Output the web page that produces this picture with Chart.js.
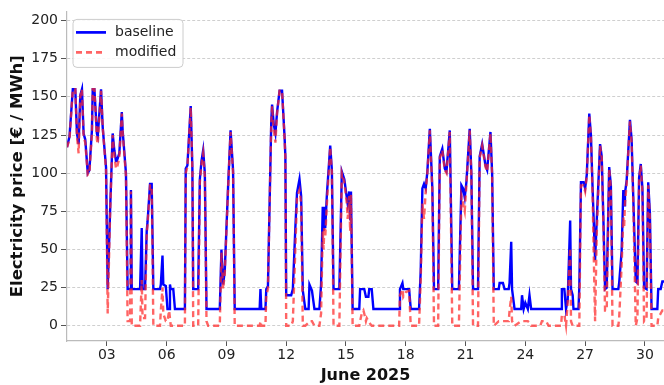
<!DOCTYPE html>
<html>
<head>
<meta charset="utf-8">
<script src="https://cdn.jsdelivr.net/npm/chart.js@4"></script>
<style>
  html, body { margin: 0; padding: 0; background: #fff; overflow: hidden; }
  #wrap { width: 664px; height: 385px; }
</style>
</head>
<body>
<div id="wrap"><canvas id="priceChart" width="664" height="385"></canvas></div>
<script>
// hours since 1 June 2025 00:00
const hours = [
  0, 3, 7, 10, 12, 14, 16, 18, 20, 22, 25, 27, 30, 31, 33, 36, 37, 41, 43, 47,
  49, 52, 55, 57, 59, 60, 63, 66, 67, 71, 73, 76, 77, 78, 88, 90, 91, 94, 96, 97,
  100, 102, 104, 112, 113, 115, 116, 119, 121, 123, 124, 125, 128, 130, 142, 143, 145, 149, 151, 152,
  158, 160, 162, 164, 166, 168, 170, 184, 186, 188, 190, 194, 197, 200, 202, 232, 233, 234, 239, 240,
  242, 246, 247, 249, 251, 253, 256, 259, 262, 263, 264, 270, 272, 275, 277, 280, 282, 284, 287, 291,
  292, 295, 298, 304, 306, 308, 309, 310, 311, 313, 317, 319, 321, 328, 331, 334, 337, 338, 340, 341,
  342, 344, 352, 353, 355, 357, 358, 360, 361, 363, 364, 367, 369, 400, 401, 404, 405, 408, 412, 414,
  424, 426, 428, 430, 432, 434, 437, 440, 442, 447, 449, 452, 455, 457, 461, 464, 472, 475, 477, 479,
  481, 485, 487, 489, 495, 497, 500, 504, 506, 510, 512, 514, 520, 521, 525, 527, 532, 533, 535, 536,
  539, 547, 548, 550, 552, 555, 557, 559, 570, 572, 577, 580, 595, 596, 599, 601, 603, 606, 607, 609,
  610, 616, 617, 619, 622, 624, 626, 629, 631, 633, 636, 638, 642, 644, 646, 648, 650, 653, 655, 657,
  664, 665, 668, 670, 671, 672, 674, 678, 680, 682, 685, 687, 689, 691, 693, 695, 698, 700, 702, 704,
  711, 712, 715, 717, 719
];

const baseline = [
  117, 124, 155, 155, 126, 119, 151, 155, 126, 122, 100, 102, 128, 155, 155, 126, 124, 155, 130, 104,
  24, 77, 126, 115, 108, 108, 113, 140, 128, 100, 24, 24, 89, 24, 24, 64, 24, 24, 62, 68,
  93, 93, 24, 24, 27, 46, 27, 26, 11, 11, 27, 24, 24, 11, 11, 103, 105, 144, 103, 24,
  24, 96, 108, 115, 100, 11, 11, 11, 50, 27, 36, 91, 128, 102, 11, 11, 24, 11, 11, 24,
  26, 134, 145, 132, 126, 140, 154, 154, 124, 111, 20, 20, 24, 64, 87, 96, 85, 23, 11, 11,
  27, 23, 11, 11, 27, 78, 62, 78, 64, 86, 118, 102, 24, 24, 101, 96, 84, 80, 88, 70,
  88, 11, 11, 24, 24, 24, 24, 19, 19, 19, 24, 24, 11, 11, 24, 28, 24, 24, 24, 11,
  11, 36, 90, 93, 90, 101, 129, 90, 24, 24, 111, 116, 103, 101, 128, 24, 24, 92, 90, 84,
  94, 129, 100, 24, 24, 111, 119, 105, 102, 127, 100, 24, 24, 28, 28, 24, 24, 28, 55, 24,
  11, 11, 20, 11, 15, 11, 20, 11, 11, 11, 11, 11, 11, 24, 24, 11, 17, 69, 24, 20,
  11, 11, 25, 94, 94, 90, 99, 139, 125, 90, 43, 69, 119, 111, 70, 24, 25, 104, 92, 24,
  24, 28, 49, 89, 79, 87, 95, 135, 122, 84, 29, 28, 97, 106, 90, 25, 24, 94, 74, 11,
  11, 24, 24, 29, 29
];

const modified = [
  117, 122, 155, 155, 124, 113, 150, 155, 124, 120, 99, 100, 126, 155, 155, 122, 119, 154, 130, 102,
  8, 75, 125, 112, 103, 103, 110, 139, 127, 98, 3, 3, 88, 0, 0, 30, 5, 5, 60, 66,
  92, 92, 0, 0, 10, 25, 8, 3, 3, 10, 5, 0, 0, 0, 0, 100, 104, 143, 102, 0,
  0, 94, 106, 113, 98, 3, 0, 0, 48, 24, 34, 90, 127, 100, 0, 0, 3, 0, 0, 20,
  24, 133, 144, 128, 120, 139, 154, 154, 123, 110, 0, 0, 3, 50, 84, 89, 80, 0, 0, 2,
  3, 3, 0, 0, 8, 62, 50, 65, 58, 80, 117, 100, 0, 0, 100, 94, 80, 70, 85, 62,
  86, 0, 0, 3, 8, 10, 8, 3, 5, 3, 2, 0, 0, 0, 20, 24, 19, 22, 23, 0,
  0, 30, 80, 70, 88, 100, 128, 88, 0, 0, 110, 115, 102, 100, 127, 0, 0, 85, 80, 75,
  92, 128, 98, 0, 0, 110, 118, 104, 101, 126, 98, 0, 3, 3, 3, 3, 3, 10, 19, 3,
  0, 3, 3, 3, 3, 3, 2, 0, 0, 3, 3, 0, 0, 7, 7, 0, 15, 51, 3, 0,
  0, 0, 0, 92, 92, 88, 98, 138, 124, 85, 3, 60, 118, 110, 65, 10, 10, 103, 90, 0,
  0, 5, 40, 71, 65, 80, 93, 134, 120, 80, 0, 5, 95, 105, 88, 3, 5, 92, 70, 0,
  0, 5, 8, 10, 10
];

const dayTicks = [3, 6, 9, 12, 15, 18, 21, 24, 27, 30];
const priceTicks = [0, 25, 50, 75, 100, 125, 150, 175, 200];

const FONT = '"DejaVu Sans", sans-serif';

const toPoints = (vals) => hours.map((h, i) => ({ x: h, y: vals[i] }));

// legend drawn inside the plot, top left, like the original
const legendBox = {
  id: "legendBox",
  afterDatasetsDraw(chart) {
    const { ctx, chartArea } = chart;
    const x = chartArea.left + 6, y = chartArea.top + 8, w = 110, h = 48;
    ctx.save();
    ctx.beginPath();
    ctx.roundRect(x, y, w, h, 4);
    ctx.fillStyle = "rgba(255,255,255,0.85)";
    ctx.fill();
    ctx.strokeStyle = "#cccccc";
    ctx.lineWidth = 1;
    ctx.stroke();
    chart.data.datasets.forEach((ds, i) => {
      const ly = y + 13 + i * 20;
      ctx.beginPath();
      ctx.setLineDash(ds.borderDash || []);
      ctx.strokeStyle = ds.borderColor;
      ctx.lineWidth = ds.borderWidth + 0.3;
      ctx.moveTo(x + 3, ly);
      ctx.lineTo(x + 33, ly);
      ctx.stroke();
      ctx.setLineDash([]);
      ctx.fillStyle = "#222";
      ctx.font = "14px " + FONT;
      ctx.textBaseline = "middle";
      ctx.fillText(ds.label, x + 42, ly);
    });
    ctx.restore();
  }
};

const ctx = document.getElementById("priceChart").getContext("2d");

new Chart(ctx, {
  type: "line",
  data: {
    datasets: [
      {
        label: "baseline",
        data: toPoints(baseline),
        borderColor: "#0000ff",
        borderWidth: 2.4,
        pointRadius: 0,
        tension: 0,
        order: 2
      },
      {
        label: "modified",
        data: toPoints(modified),
        borderColor: "rgba(255,40,40,0.72)",
        borderWidth: 2.4,
        borderDash: [6, 4],
        pointRadius: 0,
        tension: 0,
        order: 1
      }
    ]
  },
  options: {
    responsive: false,
    animation: false,
    layout: { padding: { top: 5, right: 0, bottom: 0, left: 0 } },
    plugins: {
      legend: { display: false },
      tooltip: { enabled: false }
    },
    scales: {
      x: {
        type: "linear",
        min: 0,
        max: 719,
        afterBuildTicks: (axis) => {
          axis.ticks = dayTicks.map(d => ({ value: (d - 1) * 24 }));
        },
        afterFit: (axis) => { axis.height = 44; },
        ticks: {
          color: "#222",
          font: { family: FONT, size: 14 },
          padding: 1,
          maxRotation: 0,
          callback: (val) => String(val / 24 + 1).padStart(2, "0")
        },
        grid: { drawOnChartArea: false, tickLength: 5, tickColor: "#555" },
        border: { color: "#bbbbbb", width: 1.2 },
        title: {
          display: true,
          text: "June 2025",
          color: "#111",
          font: { family: FONT, size: 16, weight: "bold" },
          padding: { top: 0, bottom: 0 }
        }
      },
      y: {
        min: -10,
        max: 206,
        afterBuildTicks: (axis) => {
          axis.ticks = priceTicks.map(v => ({ value: v }));
        },
        afterFit: (axis) => { axis.width = 67; },
        ticks: {
          color: "#222",
          font: { family: FONT, size: 14 },
          padding: 3
        },
        grid: { color: "#cfcfcf", lineWidth: 1, tickLength: 6, tickColor: "#555" },
        border: { color: "#bbbbbb", width: 1.2, dash: [3, 2] },
        title: {
          display: true,
          text: "Electricity price [€ / MWh]",
          color: "#111",
          font: { family: FONT, size: 16.5, weight: "bold" },
          padding: { top: 8, bottom: 0 }
        }
      }
    }
  },
  plugins: [legendBox]
});
</script>
</body>
</html>
